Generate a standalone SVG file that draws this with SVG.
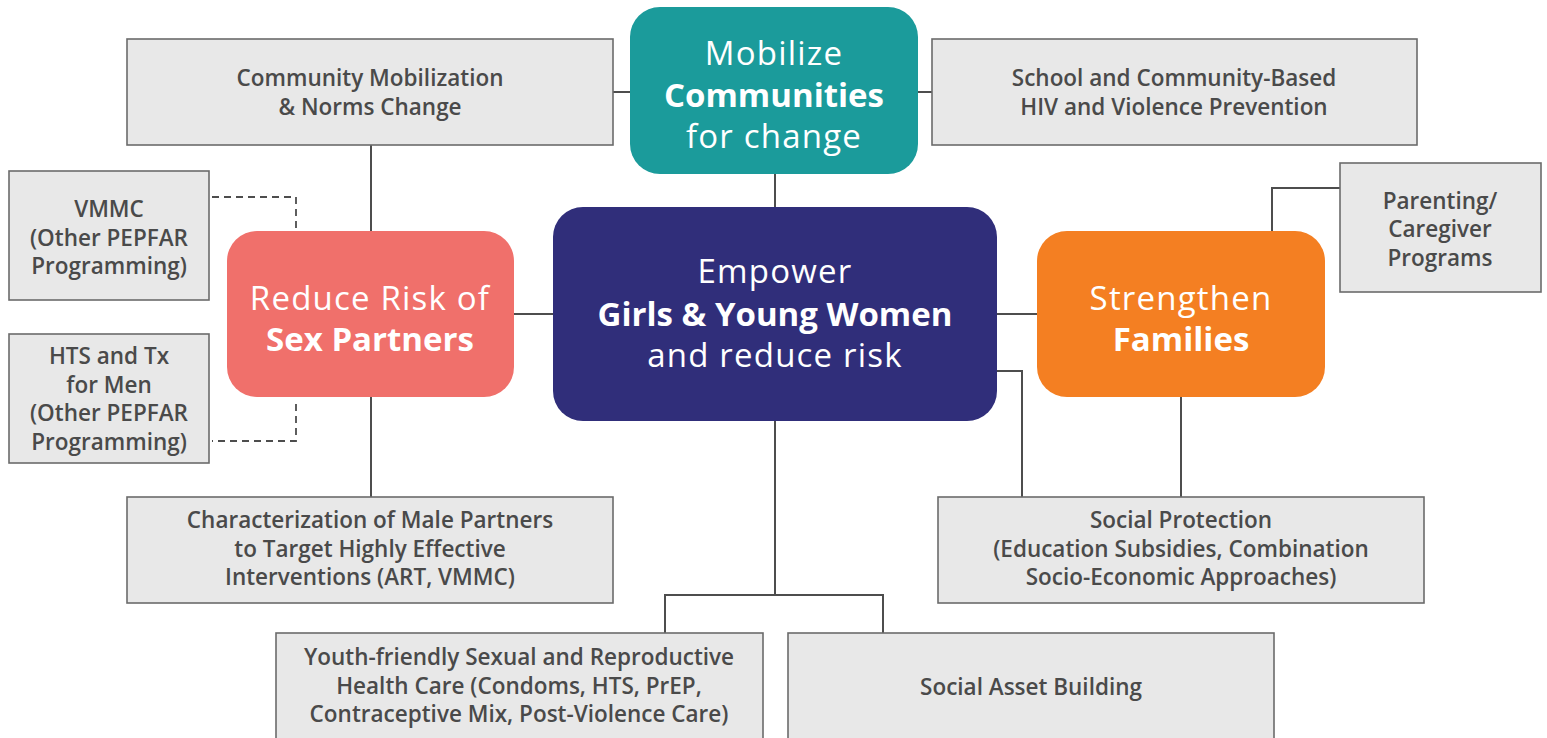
<svg xmlns="http://www.w3.org/2000/svg" width="1547" height="738" viewBox="0 0 1547 738">
<style>
.box{fill:#e8e8e8;stroke:#6b6b6b;stroke-width:1.6}
.bt{font-family:"Open Sans","Liberation Sans",sans-serif;font-weight:600;font-size:22.5px;fill:#4a4a4a;text-anchor:middle}
.big{font-family:"Open Sans","Liberation Sans",sans-serif;font-weight:400;font-size:33px;letter-spacing:1.2px;fill:#ffffff;text-anchor:middle}
.b{font-weight:700;letter-spacing:0}
.ln{fill:none;stroke:#4d4d4d;stroke-width:2}
.dl{fill:none;stroke:#4d4d4d;stroke-width:1.8;stroke-dasharray:7 5}
</style>
<rect width="1547" height="738" fill="#ffffff"/>
<g id="connectors">
<path class="ln" d="M613 92H630M918 92H932M775 174V207M371 145V231M371 397V497M514 314H553M997 314H1037M997 371H1022V497M1181 397V497M1272 231V188H1340M775 421V595M665 633V595H883V633"/>
<path class="dl" d="M212 197H296V231M296 404V441H212"/>
</g>
<g id="community-mobilization">
<rect class="box" x="127" y="39" width="486" height="106"/>
<text class="bt" x="370" y="86">Community Mobilization</text>
<text class="bt" x="370" y="115">&amp; Norms Change</text>
</g>
<g id="school-community">
<rect class="box" x="932" y="39" width="485" height="106"/>
<text class="bt" x="1174" y="86">School and Community-Based</text>
<text class="bt" x="1174" y="115">HIV and Violence Prevention</text>
</g>
<g id="mobilize">
<rect x="630" y="7" width="288" height="167" rx="30" fill="#1b9b9b"/>
<text class="big" x="774" y="65">Mobilize</text>
<text class="big b" x="774" y="107">Communities</text>
<text class="big" x="774" y="148">for change</text>
</g>
<g id="vmmc">
<rect class="box" x="9" y="171" width="200" height="129"/>
<text class="bt" x="109" y="217">VMMC</text>
<text class="bt" x="109" y="246">(Other PEPFAR</text>
<text class="bt" x="109" y="274">Programming)</text>
</g>
<g id="hts">
<rect class="box" x="9" y="334" width="200" height="129"/>
<text class="bt" x="109" y="364">HTS and Tx</text>
<text class="bt" x="109" y="393">for Men</text>
<text class="bt" x="109" y="421">(Other PEPFAR</text>
<text class="bt" x="109" y="450">Programming)</text>
</g>
<g id="reduce-risk">
<rect x="227" y="231" width="287" height="166" rx="30" fill="#f0706b"/>
<text class="big" x="370" y="310">Reduce Risk of</text>
<text class="big b" x="370" y="351">Sex Partners</text>
</g>
<g id="empower">
<rect x="553" y="207" width="444" height="214" rx="30" fill="#302e7a"/>
<text class="big" x="775" y="283">Empower</text>
<text class="big b" x="775" y="326">Girls &amp; Young Women</text>
<text class="big" x="775" y="367">and reduce risk</text>
</g>
<g id="strengthen">
<rect x="1037" y="231" width="288" height="166" rx="30" fill="#f47f22"/>
<text class="big" x="1181" y="310">Strengthen</text>
<text class="big b" x="1181" y="351">Families</text>
</g>
<g id="parenting">
<rect class="box" x="1340" y="163" width="201" height="129"/>
<text class="bt" x="1440" y="209">Parenting/</text>
<text class="bt" x="1440" y="237">Caregiver</text>
<text class="bt" x="1440" y="266">Programs</text>
</g>
<g id="characterization">
<rect class="box" x="127" y="497" width="486" height="106"/>
<text class="bt" x="370" y="528">Characterization of Male Partners</text>
<text class="bt" x="370" y="557">to Target Highly Effective</text>
<text class="bt" x="370" y="585">Interventions (ART, VMMC)</text>
</g>
<g id="social-protection">
<rect class="box" x="938" y="497" width="486" height="106"/>
<text class="bt" x="1181" y="528">Social Protection</text>
<text class="bt" x="1181" y="557">(Education Subsidies, Combination</text>
<text class="bt" x="1181" y="585">Socio-Economic Approaches)</text>
</g>
<g id="youth-friendly">
<rect class="box" x="276" y="633" width="487" height="110"/>
<text class="bt" x="519" y="665">Youth-friendly Sexual and Reproductive</text>
<text class="bt" x="519" y="694">Health Care (Condoms, HTS, PrEP,</text>
<text class="bt" x="519" y="722">Contraceptive Mix, Post-Violence Care)</text>
</g>
<g id="social-asset">
<rect class="box" x="788" y="633" width="486" height="110"/>
<text class="bt" x="1031" y="695">Social Asset Building</text>
</g>
</svg>
